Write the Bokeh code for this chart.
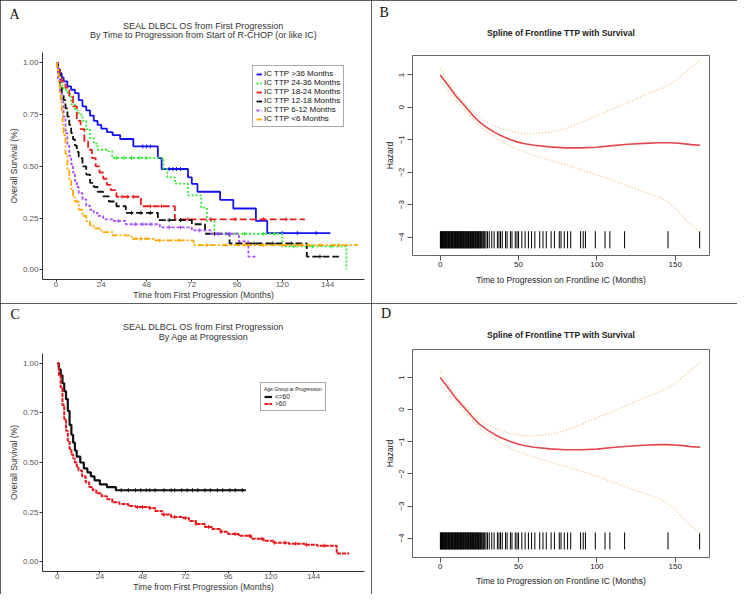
import numpy as np
from bokeh.plotting import figure
from bokeh.layouts import column, row
from bokeh.models import (Range1d, FixedTicker, NumeralTickFormatter, Title,
                          Legend, LegendItem)
from bokeh.embed import file_html
from bokeh.resources import INLINE

# ---------------- Panel A data (KM step curves) ----------------
A_labels = ["IC TTP >36 Months", "IC TTP 24-36 Months", "IC TTP 18-24 Months",
            "IC TTP 12-18 Months", "IC TTP 6-12 Months", "IC TTP <6 Months"]
A_colors = ["#1414f0", "#33e833", "#e82020", "#111111", "#a64dff", "#ffa500"]

gt36_t = [0, 1, 2, 3, 4, 6, 8, 10, 12, 14, 16, 18, 20, 22, 24, 27, 30, 34, 41, 54, 56, 70, 72, 75, 87, 94, 106, 112]
gt36_s = [1.0, 0.97, 0.95, 0.93, 0.91, 0.886, 0.87, 0.854, 0.82, 0.79, 0.77, 0.745, 0.72, 0.70, 0.682, 0.665, 0.651, 0.632, 0.596, 0.54, 0.487, 0.447, 0.415, 0.377, 0.338, 0.296, 0.236, 0.177]
gt36_end = 145.5
gt36_cens = [46, 48, 50, 60, 62, 64, 66, 120, 128, 138]

m2436_t = [0, 1, 2, 3, 4, 6, 8, 10, 12, 14, 16, 18, 20, 22, 27, 29.7, 57, 59, 63, 70, 77, 80, 84, 120, 154]
m2436_s = [1.0, 0.96, 0.92, 0.89, 0.87, 0.85, 0.80, 0.77, 0.75, 0.72, 0.68, 0.635, 0.61, 0.58, 0.573, 0.541, 0.487, 0.447, 0.416, 0.36, 0.30, 0.236, 0.174, 0.113, 0.0]
m2436_end = 154
m2436_cens = [32, 36, 40, 44, 48, 90, 100, 110, 116, 126, 136, 146]

m1824_t = [0, 1, 2, 3, 5, 7, 9, 11, 13, 15, 17, 19, 21, 23, 25, 27, 29, 32, 45, 63]
m1824_s = [1.0, 0.97, 0.94, 0.91, 0.88, 0.84, 0.79, 0.72, 0.68, 0.62, 0.58, 0.54, 0.50, 0.47, 0.44, 0.41, 0.385, 0.353, 0.307, 0.244]
m1824_end = 132
m1824_cens = [35, 38, 41, 50, 56, 70, 82, 95, 110, 122]

m1218_t = [0, 1, 2, 3, 4, 5, 6, 7, 8, 9, 10, 11, 12, 14, 16, 18, 20, 22, 25, 28, 32, 37, 54, 72, 79, 92, 133]
m1218_s = [1.0, 0.95, 0.89, 0.85, 0.82, 0.78, 0.74, 0.70, 0.66, 0.63, 0.60, 0.57, 0.54, 0.50, 0.46, 0.42, 0.40, 0.377, 0.355, 0.33, 0.307, 0.275, 0.24, 0.22, 0.174, 0.127, 0.064]
m1218_end = 150
m1218_cens = [40, 45, 50, 60, 66, 84, 97, 105, 115, 125, 140]

m612_t = [0, 1, 2, 3, 4, 5, 6, 7, 8, 9, 10, 11, 12, 14, 16, 18, 20, 22, 25, 30, 37, 55, 72, 82, 97, 102]
m612_s = [1.0, 0.92, 0.86, 0.81, 0.74, 0.66, 0.60, 0.55, 0.51, 0.47, 0.43, 0.40, 0.37, 0.34, 0.31, 0.29, 0.275, 0.26, 0.244, 0.236, 0.22, 0.205, 0.19, 0.174, 0.137, 0.064]
m612_end = 106
m612_cens = [33, 42, 46, 50, 60, 66, 76, 86, 92]

lt6_t = [0, 0.5, 1, 1.5, 2, 2.5, 3, 3.5, 4, 5, 6, 7, 8, 9, 10, 12, 14, 16, 18, 20, 24, 30, 40, 52, 73]
lt6_s = [1.0, 0.97, 0.95, 0.90, 0.85, 0.81, 0.76, 0.70, 0.65, 0.56, 0.48, 0.43, 0.39, 0.35, 0.33, 0.29, 0.26, 0.235, 0.215, 0.20, 0.182, 0.166, 0.15, 0.142, 0.119]
lt6_end = 160
lt6_cens = [45, 55, 65, 80, 90, 100, 110, 120, 130, 140, 150]

A_series = [(gt36_t, gt36_s, gt36_end, gt36_cens), (m2436_t, m2436_s, m2436_end, m2436_cens),
            (m1824_t, m1824_s, m1824_end, m1824_cens), (m1218_t, m1218_s, m1218_end, m1218_cens),
            (m612_t, m612_s, m612_end, m612_cens), (lt6_t, lt6_s, lt6_end, lt6_cens)]
A_dashes = ["solid", "2 2", "7 3", "7 3", "3 2", "6 2 2 2"]
km_xticks = [0, 24, 48, 72, 96, 120, 144]
km_yticks = [0, 0.25, 0.5, 0.75, 1.0]

# ---------------- Panel C data ----------------
C_labels = ["<=60", ">60"]
C_colors = ["#111111", "#e8161b"]
le60_t = [0, 1, 2, 3, 4, 5, 6, 7, 8, 9, 10, 11, 13, 15, 17, 19, 21, 24, 28, 33]
le60_s = [1.0, 0.97, 0.94, 0.90, 0.86, 0.82, 0.76, 0.69, 0.64, 0.60, 0.56, 0.53, 0.50, 0.47, 0.45, 0.43, 0.41, 0.39, 0.376, 0.36]
le60_end = 106
le60_cens = [36, 40, 44, 47, 50, 52, 55, 60, 64, 66, 70, 73, 76, 79, 83, 86, 90, 93, 97, 100, 104]
gt60_t = [0, 1, 2, 3, 4, 5, 6, 7, 8, 9, 10, 11, 12, 14, 16, 18, 20, 22, 25, 28, 31, 35, 40, 44, 52, 55, 59, 64, 70, 74, 78, 83, 87, 92, 96, 102, 109, 116, 122, 130, 139, 146, 157]
gt60_s = [1.0, 0.94, 0.88, 0.79, 0.72, 0.66, 0.61, 0.57, 0.54, 0.52, 0.50, 0.48, 0.46, 0.43, 0.40, 0.376, 0.36, 0.345, 0.33, 0.315, 0.30, 0.29, 0.28, 0.275, 0.27, 0.255, 0.237, 0.225, 0.22, 0.205, 0.19, 0.175, 0.164, 0.15, 0.139, 0.13, 0.115, 0.105, 0.095, 0.09, 0.085, 0.08, 0.041]
gt60_end = 164
gt60_cens = [45, 48, 52, 60, 66, 72, 78, 85, 92, 100, 108, 115, 122, 128, 134, 140, 150]

# ---------------- Panel B/D data (spline) ----------------
sp_x = [0, 5, 10, 15, 20, 25, 30, 35, 40, 45, 50, 55, 60, 70, 80, 90, 100, 110, 120, 130, 140, 145, 150, 155, 160, 166]
sp_fit = [1.0, 0.68, 0.35, 0.08, -0.2, -0.45, -0.63, -0.78, -0.9, -1.0, -1.08, -1.13, -1.17, -1.22, -1.25, -1.25, -1.23, -1.18, -1.14, -1.11, -1.09, -1.09, -1.1, -1.12, -1.15, -1.17]
sp_upper = [1.2, 0.8, 0.42, 0.15, -0.1, -0.3, -0.45, -0.58, -0.67, -0.74, -0.79, -0.81, -0.81, -0.77, -0.65, -0.46, -0.26, -0.05, 0.15, 0.37, 0.56, 0.66, 0.82, 1.02, 1.22, 1.47]
sp_lower = [0.8, 0.5, 0.22, -0.05, -0.3, -0.55, -0.75, -0.93, -1.07, -1.2, -1.31, -1.4, -1.48, -1.63, -1.77, -1.92, -2.08, -2.25, -2.43, -2.6, -2.78, -2.9, -3.1, -3.38, -3.62, -3.85]
rug_ttp = [0.1, 0.4, 0.8, 1.1, 1.5, 1.9, 2.2, 2.6, 3.0, 3.3, 3.7, 4.1, 4.4, 4.9, 5.2, 5.6, 6.0, 6.3,
           6.8, 7.1, 7.5, 7.9, 8.2, 8.7, 9.0, 9.4, 9.8, 10.2, 10.6, 11.0, 11.3, 11.8, 12.1, 12.5,
           12.9, 13.3, 13.7, 14.0, 14.5, 14.8, 15.2, 15.7, 16.0, 16.4, 16.9, 17.2, 17.6, 18.1, 18.4,
           18.9, 19.3, 19.6, 20.1, 20.5, 20.9, 21.3, 21.7, 22.2, 22.6, 23.0, 23.5, 23.9, 24.4, 24.8,
           25.3, 25.8, 26.2, 26.7, 27.3, 27.8, 28.4, 29.2, 30.2, 31.3, 32.9, 34.4, 36.5, 37.5, 38.5,
           39.6, 41.7, 42.7, 44.8, 45.8, 47.9, 49.0, 50.0, 52.1, 54.2, 56.3, 58.3, 60.4, 63.5, 65.6,
           67.7, 70.8, 72.9, 76.0, 77.1, 79.2, 81.3, 83.3, 89.6, 91.3, 92.7, 99.0, 105.2, 108.3,
           117.7, 145.4, 165.6]
sp_xticks = [0, 50, 100, 150]
sp_yticks = [-4, -3, -2, -1, 0, 1]

SANS = "Liberation Sans"
SERIF = "Liberation Serif"


def step_path(t, s, end):
    xs, ys = [t[0]], [s[0]]
    for i in range(1, len(t)):
        xs += [t[i], t[i]]
        ys += [s[i - 1], s[i]]
    xs.append(end)
    ys.append(s[-1])
    return xs, ys


def censor_y(t, s, c):
    return [s[int(np.searchsorted(t, ci, side="right")) - 1] for ci in c]


def make_fig(w, h, fr, xr, yr):
    p = figure(width=w, height=h, x_range=Range1d(*xr), y_range=Range1d(*yr),
               output_backend="svg", toolbar_location=None,
               min_border_left=fr[0], min_border_right=fr[1],
               min_border_top=fr[2], min_border_bottom=fr[3])
    p.grid.visible = False
    p.outline_line_color = None
    p.background_fill_color = "white"
    p.border_fill_color = "white"
    p.styles = {"outline": "1px solid #2a2a2a", "outline-offset": "-1px"}
    return p


def add_titles(p, lines, size, style, color, spacer, line_gaps, letter, letter_offset):
    """Stack titles above the frame: spacer first (next to the frame), then lines
    from the bottom one upward, then the panel letter."""
    p.add_layout(Title(text=" ", text_font_size="1px", standoff=spacer), "above")
    for txt, gap in zip(reversed(lines), line_gaps):
        p.add_layout(Title(text=txt, align="center", text_font=SANS, text_font_size=size,
                           text_font_style=style, text_color=color, standoff=gap), "above")
    p.add_layout(Title(text=letter, align="left", offset=letter_offset, text_font=SERIF,
                       text_font_size="14px", text_font_style="normal", text_color="#111",
                       standoff=0), "above")


def gg_axes(p, xticks, yticks, xlabel, ylabel):
    p.xaxis.ticker = FixedTicker(ticks=xticks)
    p.yaxis.ticker = FixedTicker(ticks=yticks)
    p.yaxis.formatter = NumeralTickFormatter(format="0.00")
    p.xaxis.axis_label = xlabel
    p.yaxis.axis_label = ylabel
    for ax in (p.xaxis[0], p.yaxis[0]):
        ax.axis_line_color = "#333"
        ax.axis_line_width = 1
        ax.major_tick_line_color = "#333"
        ax.minor_tick_line_color = None
        ax.major_tick_in = 0
        ax.major_tick_out = 3
        ax.major_label_text_font = SANS
        ax.major_label_text_font_size = "8px"
        ax.major_label_text_color = "#555"
        ax.axis_label_text_font = SANS
        ax.axis_label_text_font_size = "8.5px"
        ax.axis_label_text_font_style = "normal"
        ax.axis_label_text_color = "#333"
        ax.major_label_standoff = 1
        ax.axis_label_standoff = 1
    p.xaxis.major_tick_out = 2
    p.xaxis.major_label_standoff = 0
    p.xaxis.axis_label_standoff = 0


# ---------------- Panel A ----------------
pA = make_fig(371, 303, (42, 7, 52, 24), (-7.2, 163.6), (-0.047, 1.05))
gg_axes(pA, km_xticks, km_yticks, "Time from First Progression (Months)", "Overall Survival (%)")
itemsA = []
for (t, s, end, cens), col, dash, lab in zip(A_series, A_colors, A_dashes, A_labels):
    xs, ys = step_path(t, s, end)
    r = pA.line(xs, ys, line_color=col, line_width=1.8, line_dash=dash)
    pA.scatter(cens, censor_y(t, s, cens), marker="cross", size=4, line_color=col, line_width=1)
    itemsA.append(LegendItem(label=lab, renderers=[r]))
legA = Legend(items=itemsA, location=(210, 152), label_text_font=SANS, label_text_font_size="8px",
              label_text_color="#111", glyph_width=6, glyph_height=8, label_height=8,
              label_standoff=2, spacing=0, padding=3, margin=0, border_line_color="#555",
              border_line_width=1, background_fill_color="white", background_fill_alpha=1)
pA.add_layout(legA)
add_titles(pA, ["SEAL DLBCL OS from First Progression",
                "By Time to Progression from Start of R-CHOP (or like IC)"],
           "9px", "normal", "#333", 9.7, [0, -6], "A", -33)

# ---------------- Panel C ----------------
pC = make_fig(371, 291, (42, 7, 50, 22), (-8.2, 172.6), (-0.05, 1.05))
gg_axes(pC, km_xticks, km_yticks, "Time from First Progression (Months)", "Overall Survival (%)")
itemsC = []
for (t, s, end, cens), col, lab, dash, lw in zip([(le60_t, le60_s, le60_end, le60_cens),
                                                  (gt60_t, gt60_s, gt60_end, gt60_cens)],
                                                 C_colors, C_labels, ["solid", "4 1"], [2.2, 2.0]):
    xs, ys = step_path(t, s, end)
    r = pC.line(xs, ys, line_color=col, line_width=lw, line_dash=dash)
    pC.scatter(cens, censor_y(t, s, cens), marker="cross", size=4, line_color=col, line_width=1)
    itemsC.append(LegendItem(label=lab, renderers=[r]))
legC = Legend(items=itemsC, location=(218, 160), title="Age Group at Progression",
              title_text_font=SANS, title_text_font_size="5px", title_text_font_style="normal",
              title_text_color="#222", title_standoff=1,
              label_text_font=SANS, label_text_font_size="6.5px", label_text_color="#222",
              glyph_width=8, glyph_height=7, label_height=7, label_standoff=3, spacing=0,
              padding=3, margin=0, border_line_color="#555", border_line_width=1,
              background_fill_color="white", background_fill_alpha=1)
pC.add_layout(legC)
add_titles(pC, ["SEAL DLBCL OS from First Progression", "By Age at Progression"],
           "9px", "normal", "#333", 8.7, [0, -4], "C", -32)


# ---------------- Panels B and D ----------------
def spline_panel(w, h, fr, yr, letter, letter_offset, spacer, title_gap, xlab_standoff):
    p = make_fig(w, h, fr, (-17.7, 171.9), yr)
    p.outline_line_color = "#666"
    p.outline_line_width = 1
    p.xaxis.ticker = FixedTicker(ticks=sp_xticks)
    p.yaxis.ticker = FixedTicker(ticks=sp_yticks)
    p.xaxis.axis_label = "Time to Progression on Frontline IC (Months)"
    p.yaxis.axis_label = "Hazard"
    p.yaxis.major_label_orientation = "vertical"
    for ax in (p.xaxis[0], p.yaxis[0]):
        ax.axis_line_color = None
        ax.major_tick_line_color = "#555"
        ax.minor_tick_line_color = None
        ax.major_tick_in = 0
        ax.major_tick_out = 5
        ax.major_label_text_font = SANS
        ax.major_label_text_font_size = "8px"
        ax.major_label_text_color = "#222"
        ax.axis_label_text_font = SANS
        ax.axis_label_text_font_size = "8.5px"
        ax.axis_label_text_font_style = "normal"
        ax.axis_label_text_color = "#222"
    p.yaxis.major_label_standoff = 3
    p.yaxis.axis_label_standoff = 2
    p.xaxis.major_label_standoff = 1
    p.xaxis.axis_label_standoff = xlab_standoff
    p.segment(x0=rug_ttp, x1=rug_ttp, y0=[-3.82] * len(rug_ttp), y1=[-4.35] * len(rug_ttp),
              line_color="black", line_width=1)
    p.line(sp_x, sp_upper, line_color="#f2c287", line_width=1.3, line_dash="1 2")
    p.line(sp_x, sp_lower, line_color="#f2c287", line_width=1.3, line_dash="1 2")
    p.line(sp_x, sp_fit, line_color="#e2474b", line_width=1.6)
    add_titles(p, ["Spline of Frontline TTP with Survival"], "8.5px", "bold", "#222",
               spacer, [title_gap], letter, letter_offset)
    return p


pB = spline_panel(366, 303, (41, 28, 55, 48), (-4.57, 1.6), "B", -33, 8.3, 13.4, 5)
pD = spline_panel(366, 291, (41, 28, 45, 37), (-4.6, 1.87), "D", -31.5, 0, 14, 4)

layout = row(column(pA, pC), column(pB, pD))
layout.styles = {"outline": "3px solid #4a4a4a", "outline-offset": "-3px"}

open("out.html", "w").write(file_html(layout, INLINE))
